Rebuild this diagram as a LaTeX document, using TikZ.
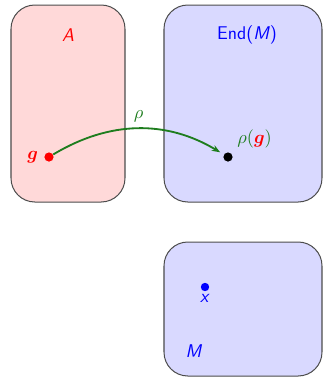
\documentclass[tikz,border=0pt]{standalone}
\usepackage{amsmath}
\usepackage{bm}
\usepackage{tikz}
\usetikzlibrary{arrows.meta,positioning}
\usepackage{xcolor}
\definecolor{mapgreen}{RGB}{30,125,30}

\begin{document}
\begin{tikzpicture}[
    x=0.021cm, y=-0.021cm,
    font=\sffamily\fontsize{11}{13}\selectfont,
    setbox/.style={rectangle, draw=black!70, line width=0.6pt, rounded corners=0.5cm},
    algbox/.style={setbox, fill=red!15, minimum width=114*0.021cm, minimum height=197*0.021cm},
    endbox/.style={setbox, fill=blue!15, minimum width=158*0.021cm, minimum height=197*0.021cm},
    modbox/.style={setbox, fill=blue!15, minimum width=158*0.021cm, minimum height=134*0.021cm},
    dot/.style={circle, fill, inner sep=0pt, minimum size=5.5pt},
    arrow/.style={-{Stealth[length=5pt]}, line width=1.1pt, mapgreen}
]
    \useasboundingbox (0,0) rectangle (324,378);

    % Sets
    \node[algbox] (alg) at (68,103.5) {};
    \node[endbox] (endo) at (243,103.5) {};
    \node[modbox] (mod) at (243,309) {};

    \node[red] (algname) at (68,35) {\textit{A}};
    \node[blue] (endname) at (247,35) {End(\textit{M})};
    \node[blue] (modname) at (194,351) {\textit{M}};

    % Points
    \node[dot, red] (g) at (49,157) {};
    \node[red, left=0pt of g] (glabel) {$\bm{g}$};
    \node[dot, black] (rg) at (228,157) {};
    \node[mapgreen, above right=0pt and 0pt of rg] (rglabel) {$\rho(\textcolor{red}{\bm{g}})$};
    \node[dot, blue, minimum size=5pt] (x) at (205,287) {};
    \node[blue, below=-2pt of x] (xlabel) {\textit{x}};

    % Map
    \draw[arrow, shorten >=2.5pt] (g) to[bend left=31] node[above, mapgreen] (rho) {$\rho$} (rg);
\end{tikzpicture}
\end{document}
